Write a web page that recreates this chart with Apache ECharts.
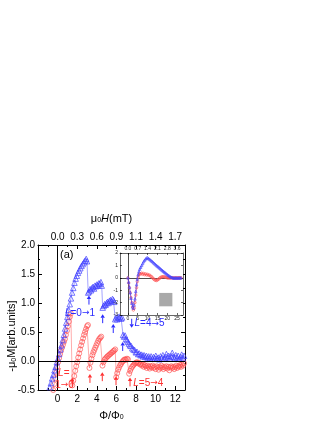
<!DOCTYPE html>
<html>
<head>
<meta charset="utf-8">
<script src="https://cdn.jsdelivr.net/npm/echarts@6/dist/echarts.min.js"></script>
<style>
  html, body { margin: 0; padding: 0; background: #fff; }
  #chart { width: 327px; height: 423px; }
</style>
</head>
<body>
<div id="chart"></div>
<script>
// main panel: Phi/Phi0 vs -mu0 M, blue = up sweep, red = down sweep
const blueMain = [
  [-0.8,-0.45],[-0.68,-0.38],[-0.56,-0.3],[-0.44,-0.24],[-0.32,-0.16],[-0.2,-0.1],[-0.08,-0.02],[0.04,0.04],
  [0.16,0.12],[0.28,0.2],[0.4,0.27],[0.52,0.36],[0.64,0.45],[0.76,0.56],[0.88,0.66],[1.0,0.76],
  [1.12,0.88],[1.24,0.98],[1.36,1.08],[1.48,1.18],[1.6,1.26],[1.72,1.35],[1.84,1.42],[1.96,1.47],
  [2.08,1.52],[2.2,1.56],[2.32,1.6],[2.44,1.64],[2.56,1.67],[2.68,1.7],[2.8,1.73],[2.92,1.76],[3.0,1.72],
  [3.12,1.18],[3.22,1.2],[3.32,1.24],[3.42,1.22],[3.52,1.26],[3.62,1.28],[3.72,1.25],[3.82,1.3],
  [3.92,1.29],[4.02,1.32],[4.12,1.3],[4.22,1.34],[4.32,1.33],[4.42,1.36],[4.5,1.3],
  [4.6,0.92],[4.7,0.95],[4.8,0.98],[4.9,0.97],[5.0,1.0],[5.1,1.02],[5.2,1.0],[5.3,1.04],[5.4,1.05],
  [5.5,1.03],[5.6,1.07],[5.7,1.05],[5.78,1.02],
  [5.88,0.72],[5.98,0.75],[6.08,0.72],[6.18,0.76],[6.28,0.74],[6.38,0.77],[6.48,0.73],[6.58,0.75],
  [6.68,0.45],[6.78,0.42],[6.88,0.44],[6.98,0.38],[7.08,0.36],[7.18,0.33],[7.28,0.3],[7.38,0.27],
  [7.5,0.26],[7.62,0.22],[7.74,0.2],[7.86,0.19],[7.98,0.15],[8.1,0.16],[8.22,0.12],[8.34,0.13],
  [8.46,0.1],[8.58,0.11],[8.7,0.08],[8.82,0.1],[8.94,0.07],[9.06,0.09],[9.18,0.06],[9.3,0.08],
  [9.42,0.05],[9.54,0.08],[9.66,0.04],[9.78,0.07],[9.9,0.05],[10.02,0.09],[10.14,0.04],[10.26,0.06],
  [10.38,0.03],[10.5,0.08],[10.62,0.05],[10.74,0.1],[10.86,0.04],[10.98,0.07],[11.1,0.12],[11.22,0.06],
  [11.34,0.09],[11.46,0.04],[11.58,0.08],[11.7,0.14],[11.82,0.07],[11.94,0.05],[12.06,0.1],[12.18,0.06],
  [12.3,0.09],[12.42,0.04],[12.54,0.07],[12.66,0.11],[12.78,0.05],[12.9,0.09]
];
const redMain = [
  [-0.45,-0.5],[-0.35,-0.4],[-0.25,-0.3],[-0.15,-0.2],[-0.05,-0.1],[0.05,-0.02],[0.15,0.05],[0.25,0.12],
  [0.35,0.18],[0.45,0.23],[0.55,0.28],[0.65,0.33],[0.75,0.38],[0.85,0.45],[0.95,0.52],[1.05,0.6],
  [1.15,0.68],[1.25,0.76],[1.35,0.82],
  [1.5,-0.42],[1.6,-0.34],[1.7,-0.26],[1.8,-0.17],[1.9,-0.09],[2.0,-0.02],[2.1,0.06],[2.2,0.13],
  [2.3,0.2],[2.4,0.27],[2.5,0.33],[2.6,0.39],[2.7,0.45],[2.8,0.5],[2.9,0.55],[3.0,0.6],[3.1,0.62],
  [3.25,-0.12],[3.35,-0.03],[3.45,0.04],[3.55,0.1],[3.65,0.15],[3.75,0.19],[3.85,0.23],[3.95,0.27],
  [4.05,0.31],[4.15,0.35],[4.25,0.38],[4.35,0.4],[4.45,0.42],
  [4.58,-0.08],[4.68,-0.02],[4.78,0.02],[4.88,0.04],[4.98,0.06],[5.08,0.08],[5.18,0.09],[5.28,0.11],
  [5.38,0.12],[5.48,0.14],[5.58,0.15],[5.68,0.17],[5.78,0.18],[5.88,0.2],
  [5.98,-0.28],[6.08,-0.21],[6.18,-0.15],[6.28,-0.11],[6.38,-0.07],[6.48,-0.05],[6.58,-0.02],[6.68,0.0],
  [6.78,0.02],[6.88,0.03],[6.98,0.02],[7.08,0.04],[7.18,0.03],
  [7.3,-0.22],[7.4,-0.17],[7.5,-0.13],[7.6,-0.1],[7.7,-0.08],[7.8,-0.06],[7.9,-0.04],[8.0,-0.03],
  [8.1,-0.02],[8.2,-0.04],[8.3,-0.03],[8.4,-0.06],[8.5,-0.05],[8.6,-0.08],[8.7,-0.06],[8.8,-0.1],
  [8.9,-0.07],[9.0,-0.09],[9.1,-0.12],[9.2,-0.08],[9.3,-0.1],[9.4,-0.13],[9.5,-0.09],[9.6,-0.11],
  [9.7,-0.08],[9.8,-0.12],[9.9,-0.1],[10.0,-0.14],[10.1,-0.09],[10.2,-0.11],[10.3,-0.15],[10.4,-0.1],
  [10.5,-0.12],[10.6,-0.08],[10.7,-0.11],[10.8,-0.14],[10.9,-0.1],[11.0,-0.12],[11.1,-0.09],[11.2,-0.13],
  [11.3,-0.1],[11.4,-0.16],[11.5,-0.11],[11.6,-0.09],[11.7,-0.12],[11.8,-0.1],[11.9,-0.14],[12.0,-0.11],
  [12.1,-0.08],[12.2,-0.12],[12.3,-0.09],[12.4,-0.1],[12.5,-0.07],[12.6,-0.1],[12.7,-0.06],[12.8,-0.08],
  [12.9,-0.04]
];
// inset: wider field sweep
const blueInset = [
  [0,0],[0.4,-0.35],[0.8,-0.75],[1.2,-1.2],[1.6,-1.65],[2.0,-2.05],[2.4,-2.35],[2.8,-2.45],[3.2,-2.2],
  [3.6,-1.7],[4.0,-1.1],[4.4,-0.55],[4.8,-0.1],[5.2,0.25],[5.6,0.5],[6.0,0.7],[6.5,0.85],[7.0,1.0],
  [7.5,1.15],[8.0,1.3],[8.5,1.42],[9.0,1.52],[9.5,1.6],[10.0,1.62],[10.5,1.56],[11.0,1.5],[11.5,1.43],
  [12.0,1.36],[12.5,1.3],[13.0,1.22],[13.5,1.15],[14.0,1.08],[14.5,1.0],[15.0,0.94],[15.5,0.87],
  [16.0,0.8],[16.5,0.73],[17.0,0.66],[17.5,0.6],[18.0,0.53],[18.5,0.46],[19.0,0.4],[19.5,0.33],
  [20.0,0.27],[20.5,0.21],[21.0,0.15],[21.5,0.1],[22.0,0.05],[22.5,0.02],[23.0,0.0],[23.5,-0.02],
  [24.0,0.0],[24.5,-0.01],[25.0,0.0],[25.5,-0.02],[26.0,0.0],[26.5,-0.01],[27.0,0.0]
];
const redInset = [
  [0,0],[0.4,-0.4],[0.8,-0.8],[1.2,-1.2],[1.6,-1.6],[2.0,-2.0],[2.4,-2.35],[2.8,-2.6],[3.2,-2.45],
  [3.6,-2.0],[4.0,-1.4],[4.4,-0.8],[4.8,-0.3],[5.2,0.05],[5.6,0.25],[6.0,0.35],[6.5,0.3],[7.0,0.38],
  [7.5,0.28],[8.0,0.35],[8.5,0.25],[9.0,0.32],[9.5,0.22],[10.0,0.28],[10.5,0.2],[11.0,0.22],[11.5,0.12],
  [12.0,0.1],[12.5,0.0],[13.0,-0.08],[13.5,-0.15],[14.0,-0.2],[14.5,-0.22],[15.0,-0.18],[15.5,-0.12],
  [16.0,-0.05],[16.5,0.02],[17.0,0.06],[17.5,0.08],[18.0,0.1],[18.5,0.08],[19.0,0.05],[19.5,0.03],
  [20.0,0.0],[20.5,-0.02],[21.0,0.0],[21.5,-0.03],[22.0,0.0],[22.5,0.01],[23.0,-0.02],[23.5,0.0],
  [24.0,-0.01],[24.5,0.0],[25.0,-0.02],[25.5,0.0],[26.0,0.01],[26.5,-0.01],[27.0,0.0]
];

// tick labels
const topLabels = ['0.0', '0.3', '0.6', '0.9', '1.1', '1.4', '1.7'];
const insetXTicks = [0, 5, 10, 15, 20, 25];
const insetTopLabels = ['0.0', '0.7', '1.4', '2.1', '2.8', '3.6'];
const greyBox = [[15.9, -1.22], [22.6, -2.3]];

// annotations (data coords of the main panel)
const notes = [
  { x: 0.25, y: 1.83, text: '(a)', color: '#000', size: 11 },
  { x: 0.75, y: 0.83, text: '{i|L}=0{a|→}1', color: '#2a2aff' },
  { x: 7.85, y: 0.65, text: '{i|L}=4{a|→}5', color: '#2a2aff' },
  { x: 0.05, y: -0.21, text: '{i|L}=', color: '#ff3030' },
  { x: -0.25, y: -0.41, text: '1{a|→}0', color: '#ff3030' },
  { x: 7.72, y: -0.38, text: '{i|L}=5{a|→}4', color: '#ff3030' }
];
// small vertical arrows: dir 1 = up, -1 = down
const arrows = [
  { x: 3.2, y: 1.05, dir: 1, color: '#2a2aff' },
  { x: 4.6, y: 0.73, dir: 1, color: '#2a2aff' },
  { x: 5.68, y: 0.56, dir: 1, color: '#2a2aff' },
  { x: 6.64, y: 0.25, dir: 1, color: '#2a2aff' },
  { x: 7.56, y: 0.65, dir: -1, color: '#2a2aff' },
  { x: 1.5, y: -0.37, dir: 1, color: '#ff3030' },
  { x: 3.3, y: -0.3, dir: 1, color: '#ff3030' },
  { x: 4.56, y: -0.27, dir: 1, color: '#ff3030' },
  { x: 5.96, y: -0.34, dir: 1, color: '#ff3030' },
  { x: 7.39, y: -0.36, dir: 1, color: '#ff3030' }
];

const FONT = 'Liberation Sans, Arial, sans-serif';
const BLUE = '#4040ff';
const RED = '#ff5050';
const subRich = {
  s: { fontSize: 7, fontFamily: FONT, color: '#000', verticalAlign: 'bottom', padding: [4, 0, 0, 0] },
  i: { fontSize: 11, fontFamily: FONT, fontStyle: 'italic', color: '#000' }
};

const chart = echarts.init(document.getElementById('chart'));

const mainTick = { show: true, inside: true, length: 4, lineStyle: { color: '#000', width: 1 } };
const mainMinor = { show: true, splitNumber: 2, length: 2, lineStyle: { color: '#000', width: 1 } };
const insetTick = { show: true, inside: true, length: 2, lineStyle: { color: '#000', width: 0.6 } };
const blackLine = { show: true, onZero: false, lineStyle: { color: '#000', width: 1 } };
const thinLine = { show: true, onZero: false, lineStyle: { color: '#000', width: 0.6 } };
const lbl = { color: '#000', fontFamily: FONT, fontSize: 10 };
const smallLbl = { color: '#222', fontFamily: FONT, fontSize: 5 };

const option = {
  animation: false,
  backgroundColor: '#fff',
  grid: [
    { left: 38, right: 142, top: 245, bottom: 33 },
    { left: 120, right: 144, top: 253, bottom: 108, z: 10, show: true, backgroundColor: '#fff', borderWidth: 0 }
  ],
  xAxis: [
    {
      gridIndex: 0, type: 'value', position: 'bottom', min: -2, max: 13, interval: 2,
      axisLine: blackLine, axisTick: mainTick, minorTick: mainMinor, splitLine: { show: false },
      axisLabel: Object.assign({ margin: 4, formatter: v => (v < 0 ? '' : String(v)) }, lbl),
      name: 'Φ/Φ{s|0}', nameLocation: 'middle', nameGap: 20,
      nameTextStyle: { color: '#000', fontFamily: FONT, fontSize: 11, rich: subRich }
    },
    {
      gridIndex: 0, type: 'value', position: 'top', min: -2, max: 13, interval: 2,
      axisLine: blackLine, axisTick: mainTick, minorTick: mainMinor, splitLine: { show: false },
      axisLabel: Object.assign({ margin: 3, formatter: v => (v < 0 ? '' : (topLabels[v / 2] || '')) }, lbl),
      name: 'μ{s|0}{i|H}(mT)', nameLocation: 'middle', nameGap: 21,
      nameTextStyle: { color: '#000', fontFamily: FONT, fontSize: 11, rich: subRich }
    },
    {
      gridIndex: 1, type: 'value', position: 'bottom', min: -4, max: 28, z: 11,
      axisLine: thinLine, splitLine: { show: false },
      axisTick: Object.assign({ customValues: insetXTicks }, insetTick),
      axisLabel: Object.assign({ margin: 1.5, customValues: insetXTicks }, smallLbl)
    },
    {
      gridIndex: 1, type: 'value', position: 'top', min: -4, max: 28, z: 11,
      axisLine: thinLine, splitLine: { show: false },
      axisTick: Object.assign({ customValues: insetXTicks }, insetTick),
      axisLabel: Object.assign({
        margin: 1.5, customValues: insetXTicks,
        formatter: v => insetTopLabels[insetXTicks.indexOf(v)] || ''
      }, smallLbl)
    }
  ],
  yAxis: [
    {
      gridIndex: 0, type: 'value', position: 'left', min: -0.5, max: 2, interval: 0.5,
      axisLine: blackLine, axisTick: mainTick, minorTick: mainMinor, splitLine: { show: false },
      axisLabel: Object.assign({ margin: 3, formatter: v => v.toFixed(1) }, lbl)
    },
    {
      gridIndex: 0, type: 'value', position: 'right', min: -0.5, max: 2, interval: 0.5,
      axisLine: blackLine, axisTick: mainTick, minorTick: mainMinor, splitLine: { show: false },
      axisLabel: { show: false }
    },
    {
      gridIndex: 1, type: 'value', position: 'left', min: -3, max: 2, interval: 1, z: 11,
      axisLine: thinLine, axisTick: insetTick, splitLine: { show: false },
      axisLabel: Object.assign({ margin: 2 }, smallLbl)
    },
    {
      gridIndex: 1, type: 'value', position: 'right', min: -3, max: 2, interval: 1, z: 11,
      axisLine: thinLine, axisTick: insetTick, splitLine: { show: false },
      axisLabel: { show: false }
    }
  ],
  series: [
    {
      type: 'line', xAxisIndex: 0, yAxisIndex: 0, data: redMain, z: 2,
      symbol: 'circle', symbolSize: 5,
      itemStyle: { color: 'rgba(255,255,255,0)', borderColor: RED, borderWidth: 0.7 },
      lineStyle: { color: RED, width: 0.6, opacity: 0.8 },
      markLine: {
        silent: true, symbol: ['none', 'none'], label: { show: false },
        lineStyle: { color: '#000', width: 1, type: 'solid' },
        data: [{ yAxis: 0 }, { xAxis: 0 }]
      }
    },
    {
      type: 'line', xAxisIndex: 0, yAxisIndex: 0, data: blueMain, z: 3,
      symbol: 'triangle', symbolSize: 5.5,
      itemStyle: { color: 'rgba(255,255,255,0)', borderColor: BLUE, borderWidth: 0.7 },
      lineStyle: { color: BLUE, width: 0.6, opacity: 0.8 }
    },
    {
      type: 'line', xAxisIndex: 2, yAxisIndex: 2, data: redInset, z: 12,
      symbol: 'circle', symbolSize: 2.5,
      itemStyle: { color: 'rgba(255,255,255,0)', borderColor: RED, borderWidth: 0.6 },
      lineStyle: { color: RED, width: 0.6 },
      markLine: {
        z: 12, silent: true, symbol: ['none', 'none'], label: { show: false },
        lineStyle: { color: '#000', width: 0.7, type: 'solid' },
        data: [{ yAxis: 0 }, { xAxis: 0 }]
      },
      markArea: {
        z: 12, silent: true,
        itemStyle: { color: '#a9a9a9', opacity: 1 },
        data: [[{ coord: greyBox[0] }, { coord: greyBox[1] }]]
      }
    },
    {
      type: 'line', xAxisIndex: 2, yAxisIndex: 2, data: blueInset, z: 13,
      symbol: 'triangle', symbolSize: 2.5,
      itemStyle: { color: 'rgba(255,255,255,0)', borderColor: BLUE, borderWidth: 0.6 },
      lineStyle: { color: BLUE, width: 0.6 }
    }
  ]
};

chart.setOption(option);

// annotations placed through the main axes
const toPx = (x, y) => chart.convertToPixel({ xAxisIndex: 0, yAxisIndex: 0 }, [x, y]);
const graphics = notes.map(n => {
  const p = toPx(n.x, n.y);
  const fs = n.size || 10;
  return {
    type: 'text', x: p[0], y: p[1], z: 30,
    style: {
      text: n.text, fill: n.color, fontFamily: FONT, fontSize: fs,
      align: 'left', verticalAlign: 'middle',
      rich: {
        i: { fontStyle: 'italic', fontFamily: FONT, fontSize: fs, fill: n.color },
        a: { fontFamily: 'DejaVu Sans', fontSize: fs - 1, fill: n.color }
      }
    }
  };
});
arrows.forEach(a => {
  const p = toPx(a.x, a.y);
  const half = 4.5, head = 3.5, w = 2.2;
  const tip = p[1] - a.dir * half;
  const tail = p[1] + a.dir * half;
  const base = tip + a.dir * head;
  graphics.push({
    type: 'line', z: 30,
    shape: { x1: p[0], y1: tail, x2: p[0], y2: base },
    style: { stroke: a.color, lineWidth: 1 }
  });
  graphics.push({
    type: 'polygon', z: 30,
    shape: { points: [[p[0], tip], [p[0] - w, base], [p[0] + w, base]] },
    style: { fill: a.color }
  });
});
graphics.push({
  type: 'text', x: 12, y: 336, rotation: Math.PI / 2, z: 30,
  style: {
    text: '-μ{s|0}M[arb.units]', fill: '#000', fontFamily: FONT, fontSize: 11,
    align: 'center', verticalAlign: 'middle',
    rich: { s: { fontSize: 7, fontFamily: FONT, fill: '#000', verticalAlign: 'bottom', padding: [4, 0, 0, 0] } }
  }
});
chart.setOption({ graphic: graphics });
</script>
</body>
</html>
